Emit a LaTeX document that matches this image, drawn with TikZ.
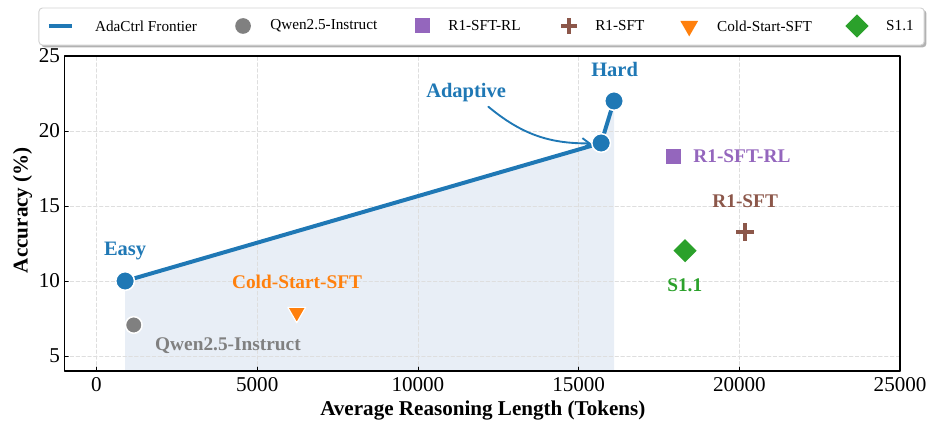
\documentclass[tikz,border=0pt]{standalone}
\usepackage{fontspec}
\setmainfont{Liberation Serif}
\usepackage{pgf,tikz}
\usetikzlibrary{arrows.meta,shapes.geometric}
\definecolor{ctrlblue}{rgb}{0.12,0.47,0.71}
\definecolor{qwengray}{rgb}{0.5,0.5,0.5}
\definecolor{rlpurple}{rgb}{0.58,0.4,0.74}
\definecolor{sftbrown}{rgb}{0.55,0.34,0.29}
\definecolor{coldorange}{rgb}{1,0.5,0.05}
\definecolor{sgreen}{rgb}{0.17,0.63,0.17}
\definecolor{gridgray}{rgb}{0.87,0.87,0.87}
\definecolor{shadegray}{rgb}{0.7,0.7,0.7}
\definecolor{areablue}{rgb}{0.91,0.935,0.965}

\begin{document}
\begin{tikzpicture}[line cap=round,line join=round,x=0.9642cm,y=0.45cm,
    dot/.style={circle,fill=#1,draw=white,line width=1.3pt,inner sep=0pt,minimum size=0.56cm},
    smalldot/.style={circle,fill=#1,draw=white,line width=1.3pt,inner sep=0pt,minimum size=0.5cm},
    sqmark/.style={rectangle,fill=#1,inner sep=0pt,minimum size=0.45cm},
    trimark/.style={regular polygon,regular polygon sides=3,shape border rotate=180,fill=#1,draw=white,line width=1pt,inner sep=0pt,minimum size=0.62cm},
    dmmark/.style={diamond,aspect=1,fill=#1,inner sep=0pt,minimum size=0.7cm},
    gridline/.style={gridgray,line width=0.7pt,dash pattern=on 3pt off 2pt},
    lbl/.style={text=#1,font=\bfseries\fontsize{16.5}{18}\selectfont},
    biglbl/.style={text=#1,font=\bfseries\fontsize{17.5}{19}\selectfont},
    ticklbl/.style={font=\fontsize{18}{20}\selectfont,inner sep=0pt},
    leglbl/.style={font=\fontsize{13}{15}\selectfont,anchor=west,inner sep=0pt}]
    \useasboundingbox (-3.002,0.667) rectangle (25.9,28.733);

    % frontier points
    \coordinate (easy) at (0.89,10);
    \coordinate (adaptive) at (15.7,19.2);
    \coordinate (hard) at (16.1,22.0);
    \coordinate (easyFoot) at (0.89,4);
    \coordinate (hardFoot) at (16.1,4);

    % shaded area under the frontier
    \fill[areablue] (easyFoot) -- (easy) -- (adaptive) -- (hard) -- (hardFoot) -- cycle;

    % grid
    \foreach \x in {0,5,...,20}
    \draw[gridline] (\x,4) -- (\x,25);
    \foreach \y in {5,10,15,20}
    \draw[gridline] (-1,\y) -- (25,\y);

    % axes frame and ticks
    \draw[line width=1.3pt,line cap=butt] (-1,4) rectangle (25,25);
    \foreach \x/\lab in {0/0,5/5000,10/10000,15/15000,20/20000,25/25000}
    {
    \draw[shift={(\x,4)},color=black] (0pt,0pt) -- (0pt,3.5pt);
    \node[ticklbl] (xt\x) at (\x,3.07) {\lab};
    }
    \foreach \y in {5,10,15,20,25}
    {
    \draw[shift={(-1,\y)},color=black] (0pt,0pt) -- (3.5pt,0pt);
    \node[ticklbl,anchor=east] (yt\y) at (-1.13,\y) {\y};
    }
    \node[font=\bfseries\fontsize{18}{20}\selectfont] (xlabel) at (12.02,1.4) {Average Reasoning Length (Tokens)};
    \node[font=\bfseries\fontsize{18}{20}\selectfont,rotate=90] (ylabel) at (-2.3,14.73) {Accuracy (\%)};

    % frontier line
    \draw[ctrlblue,line width=3.4pt] (easy) -- (adaptive) -- (hard);
    \node[dot=ctrlblue] (easyDot) at (easy) {};
    \node[dot=ctrlblue] (adaptiveDot) at (adaptive) {};
    \node[dot=ctrlblue] (hardDot) at (hard) {};
    \node[biglbl=ctrlblue] (easyLbl) at (0.89,12.02) {Easy};
    \node[biglbl=ctrlblue] (hardLbl) at (16.12,24.11) {Hard};
    \node[biglbl=ctrlblue] (adaptiveLbl) at (11.5,22.55) {Adaptive};
    \coordinate (adaptTail) at (12.19,21.62);
    \draw[ctrlblue,line width=1.6pt,-{Straight Barb[length=6pt,width=9pt]}] (adaptTail) to[bend right=20] (adaptiveDot);

    % baselines
    \node[smalldot=qwengray] (qwen) at (1.16,7.07) {};
    \node[lbl=qwengray] (qwenLbl) at (4.09,5.67) {Qwen2.5-Instruct};
    \node[trimark=coldorange] (cold) at (6.23,7.9) {};
    \node[lbl=coldorange] (coldLbl) at (6.24,9.91) {Cold-Start-SFT};
    \node[sqmark=rlpurple] (rl) at (17.94,18.27) {};
    \node[lbl=rlpurple] (rlLbl) at (20.08,18.35) {R1-SFT-RL};
    \node[inner sep=0pt] (sft) at (20.18,13.27) {};
    \draw[sftbrown,line width=3.4pt,line cap=butt] ([xshift=-0.26cm]sft.center) -- ([xshift=0.26cm]sft.center);
    \draw[sftbrown,line width=3.4pt,line cap=butt] ([yshift=-0.26cm]sft.center) -- ([yshift=0.26cm]sft.center);
    \node[lbl=sftbrown] (sftLbl) at (20.18,15.35) {R1-SFT};
    \node[dmmark=sgreen] (sone) at (18.31,12.02) {};
    \node[lbl=sgreen] (soneLbl) at (18.3,9.73) {S1.1};

    % legend box
    \fill[shadegray,rounded corners=3pt] (-1.72,25.58) rectangle (25.82,28.07);
    \draw[gray!35,fill=white,rounded corners=3pt,line width=0.8pt] (-1.79,25.73) rectangle (25.75,28.2);
    \draw[ctrlblue,line width=3.4pt,line cap=butt] (-1.48,27) -- (-0.76,27);
    \node[leglbl] (legFrontier) at (-0.05,27) {AdaCtrl Frontier};
    \node[circle,fill=qwengray,inner sep=0pt,minimum size=0.47cm] (legQwenMark) at (4.56,27) {};
    \node[leglbl] (legQwen) at (5.4,27) {Qwen2.5-Instruct};
    \node[sqmark=rlpurple] (legRlMark) at (10.13,27) {};
    \node[leglbl] (legRl) at (10.94,27) {R1-SFT-RL};
    \node[inner sep=0pt] (legSftMark) at (14.7,27) {};
    \draw[sftbrown,line width=3.4pt,line cap=butt] ([xshift=-0.24cm]legSftMark.center) -- ([xshift=0.24cm]legSftMark.center);
    \draw[sftbrown,line width=3.4pt,line cap=butt] ([yshift=-0.24cm]legSftMark.center) -- ([yshift=0.24cm]legSftMark.center);
    \node[leglbl] (legSft) at (15.51,27) {R1-SFT};
    \node[trimark=coldorange,draw=none] (legColdMark) at (18.44,27) {};
    \node[leglbl] (legCold) at (19.3,27) {Cold-Start-SFT};
    \node[dmmark=sgreen] (legSoneMark) at (23.66,27) {};
    \node[leglbl] (legSone) at (24.56,27) {S1.1};
\end{tikzpicture}
\end{document}
